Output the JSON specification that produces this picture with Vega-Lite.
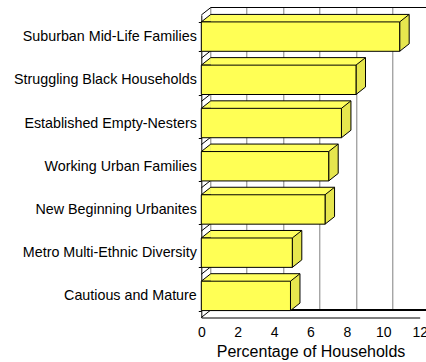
{
  "$schema": "https://vega.github.io/schema/vega-lite/v6.json",
  "width": 218.4,
  "height": 302.5,
  "autosize": "none",
  "padding": {"left": 201.3, "top": 15, "right": 6.3, "bottom": 44.5},
  "background": "white",
  "config": {"font": "Liberation Sans", "view": {"stroke": null}},
  "data": {
    "values": [
      {"segment": "Suburban Mid-Life Families", "pct": 10.9},
      {"segment": "Struggling Black Households", "pct": 8.5},
      {"segment": "Established Empty-Nesters", "pct": 7.7},
      {"segment": "Working Urban Families", "pct": 7.0},
      {"segment": "New Beginning Urbanites", "pct": 6.8},
      {"segment": "Metro Multi-Ethnic Diversity", "pct": 5.0},
      {"segment": "Cautious and Mature", "pct": 4.9}
    ]
  },
  "encoding": {
    "y": {
      "field": "segment",
      "type": "nominal",
      "sort": null,
      "title": null,
      "scale": {"paddingInner": 0.32, "paddingOuter": 0.16},
      "axis": {
        "labelFontSize": 14.3,
        "labelColor": "black",
        "labelPadding": 2,
        "labelLimit": 300,
        "tickBand": "extent",
        "tickSize": 3,
        "tickColor": "black",
        "domainColor": "black",
        "grid": false
      }
    }
  },
  "layer": [
    {
      "mark": {"type": "bar", "fill": "#FFFF5E", "strokeWidth": 0, "xOffset": 9.5, "x2Offset": 9.5, "yOffset": -7.5, "y2Offset": -7.5},
      "encoding": {
        "x": {
          "field": "pct", "type": "quantitative",
          "scale": {"domain": [0, 12], "nice": false, "zero": true},
          "axis": {"orient": "top", "grid": true, "gridColor": "#808080", "gridWidth": 1, "domain": false, "ticks": false, "labels": false, "title": null, "values": [0, 2, 4, 6, 8, 10, 12], "translate": -7.5, "tickOffset": 17}
        }
      }
    },
    {
      "mark": {"type": "rule", "color": "black", "strokeWidth": 1, "xOffset": 9.5, "x2Offset": 9.5, "yOffset": -22.2},
      "encoding": {
        "x": {
          "field": "pct", "type": "quantitative",
          "scale": {"domain": [0, 12], "nice": false, "zero": true},
          "axis": {"orient": "bottom", "grid": false, "ticks": false, "labels": false, "title": null, "domain": true, "domainColor": "black", "domainWidth": 2, "translate": 9.5, "offset": -17}
        },
        "x2": {"datum": 0}
      }
    },
    {
      "mark": {"type": "point", "shape": "M0,0L9.5,-7.5L9.5,21.9L0,29.4Z", "size": 4, "filled": true, "fill": "#E6E64E", "stroke": "black", "strokeWidth": 1, "opacity": 1, "yOffset": -14.7},
      "encoding": {
        "x": {
          "field": "pct", "type": "quantitative",
          "scale": {"domain": [0, 12], "nice": false, "zero": true},
          "axis": {"orient": "top", "grid": false, "ticks": false, "labels": false, "title": null, "domain": true, "domainColor": "black", "translate": 9.5, "offset": 17}
        }
      }
    },
    {
      "mark": {"type": "point", "shape": "M9.5,0L0,0L9.5,-7.5", "size": 4, "filled": true, "fill": "#FFFF5E", "stroke": "black", "strokeWidth": 1, "opacity": 1, "yOffset": -14.7},
      "encoding": {
        "x": {"datum": 0, "type": "quantitative", "scale": {"domain": [0, 12], "nice": false, "zero": true}, "axis": null}
      }
    },
    {
      "mark": {"type": "point", "shape": "M0,0L9.5,-7.5", "size": 4, "filled": false, "stroke": "black", "strokeWidth": 1, "opacity": 1, "yOffset": -21.6},
      "encoding": {
        "x": {"datum": 0, "type": "quantitative", "scale": {"domain": [0, 12], "nice": false, "zero": true}, "axis": null}
      }
    },
    {
      "transform": [{"filter": "datum.segment === 'Cautious and Mature'"}],
      "mark": {"type": "point", "shape": "M0,0L9.5,-7.5", "size": 4, "filled": false, "stroke": "black", "strokeWidth": 1, "opacity": 1, "yOffset": 21.6},
      "encoding": {
        "x": {"datum": 0, "type": "quantitative", "scale": {"domain": [0, 12], "nice": false, "zero": true}, "axis": null}
      }
    },
    {
      "mark": {"type": "bar", "fill": "#FFFF55", "stroke": "black", "strokeWidth": 1},
      "encoding": {
        "x": {
          "field": "pct", "type": "quantitative",
          "scale": {"domain": [0, 12], "nice": false, "zero": true},
          "axis": {
            "orient": "bottom",
            "values": [0, 2, 4, 6, 8, 10, 12],
            "ticks": false,
            "grid": false,
            "labelFontSize": 14,
            "labelColor": "black",
            "labelPadding": 7.5,
            "labelFlush": false,
            "labelOverlap": false,
            "domainColor": "black",
            "title": "Percentage of Households",
            "titleFontSize": 16,
            "titleFontWeight": "normal",
            "titleColor": "black",
            "titlePadding": 4
          }
        }
      }
    }
  ],
  "resolve": {"axis": {"x": "independent"}}
}
